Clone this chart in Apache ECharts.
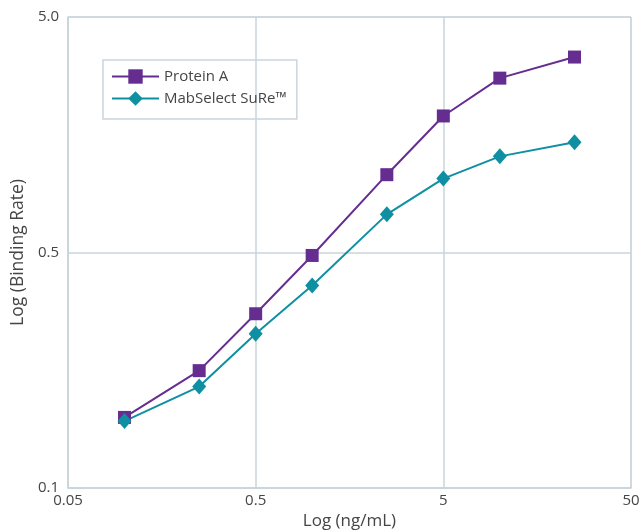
<!DOCTYPE html>
<html><head><meta charset="utf-8">
<script src="https://cdn.jsdelivr.net/npm/echarts@6/dist/echarts.min.js"></script>
<style>html,body{margin:0;padding:0;background:#fff}#c{width:642px;height:531px}</style>
</head><body><div id="c"></div>
<script>
// concentrations (ng/mL)
const concentrations = [0.1, 0.25, 0.5, 1, 2.5, 5, 10, 25];
// binding rate values
const proteinA = [0.162, 0.223, 0.329, 0.49, 1.07, 1.90, 2.75, 3.38];
const mabSelect = [0.158, 0.200, 0.287, 0.399, 0.726, 1.03, 1.28, 1.47];
const xTickLabels = ['0.05', '0.5', '5', '50'];
const yTickLabels = ['0.1', '0.5', '5.0'];
const seriesNames = ['Protein A', 'MabSelect SuRe™'];

// chart's x scale: decades above 0.05
const xPos = v => Math.log10(v / 0.05);
// chart's y scale: 0.1→0, 0.5→1, 5.0→2 (log within each band)
const yPos = v => v <= 0.5 ? Math.log(v / 0.1) / Math.log(5) : 1 + Math.log10(v / 0.5);

const toData = arr => arr.map((v, i) => [xPos(concentrations[i]), yPos(v)]);
const font = '"Open Sans", sans-serif';
const gridColor = '#c9d5db';
const textColor = '#454545';

const chart = echarts.init(document.getElementById('c'));
chart.setOption({
  animation: false,
  grid: {left: 68, right: 11, top: 17, bottom: 43, show: true, borderColor: gridColor, borderWidth: 1,
         containLabel: false, outerBoundsMode: 'none'},
  legend: {
    left: 103, top: 60, orient: 'vertical',
    itemWidth: 47, itemHeight: 18, itemGap: 7,
    padding: [9, 10, 13, 8],
    borderColor: gridColor, borderWidth: 1.5,
    textStyle: {fontFamily: font, fontSize: 15, color: textColor},
    data: seriesNames
  },
  xAxis: {
    type: 'value', min: 0, max: 3, interval: 1,
    name: 'Log (ng/mL)', nameLocation: 'middle', nameGap: 25,
    nameTextStyle: {fontFamily: font, fontSize: 17, color: textColor},
    axisLine: {show: true, lineStyle: {color: gridColor, width: 1.5}},
    axisTick: {show: false},
    axisLabel: {fontFamily: font, fontSize: 15, color: textColor, margin: 5,
      formatter: v => xTickLabels[Math.round(v)]},
    splitLine: {show: true, lineStyle: {color: gridColor, width: 1.5}}
  },
  yAxis: {
    type: 'value', min: 0, max: 2, interval: 1,
    name: 'Log (Binding Rate)', nameLocation: 'middle', nameGap: 40, nameRotate: 90,
    nameTextStyle: {fontFamily: font, fontSize: 17.5, color: textColor},
    axisLine: {show: true, lineStyle: {color: gridColor, width: 1.5}},
    axisTick: {show: false},
    axisLabel: {fontFamily: font, fontSize: 15, color: textColor, margin: 9,
      formatter: v => yTickLabels[Math.round(v)]},
    splitLine: {show: true, lineStyle: {color: gridColor, width: 1.5}}
  },
  series: [
    {name: seriesNames[0], type: 'line', data: toData(proteinA),
     symbol: 'rect', symbolSize: 13,
     lineStyle: {color: '#662d91', width: 2}, itemStyle: {color: '#662d91'}},
    {name: seriesNames[1], type: 'line', data: toData(mabSelect),
     symbol: 'diamond', symbolSize: [14, 16],
     lineStyle: {color: '#0f8fa2', width: 2}, itemStyle: {color: '#0f8fa2'}}
  ]
});
</script></body></html>
